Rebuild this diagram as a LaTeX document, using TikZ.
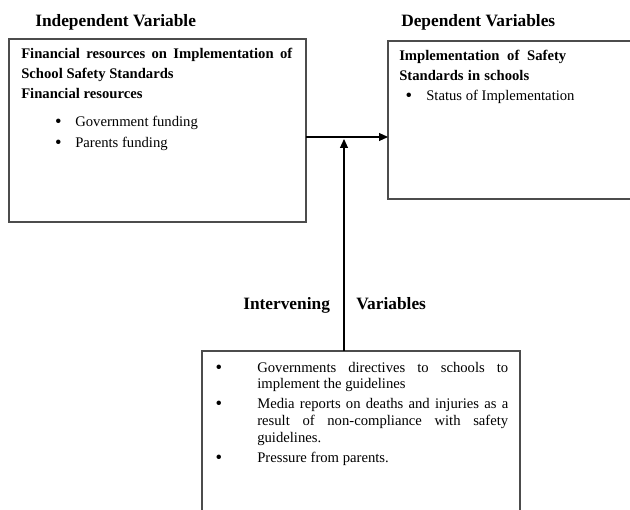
\documentclass[tikz,border=0pt]{standalone}
\usepackage{fontspec}
\setmainfont{Liberation Serif}
\usetikzlibrary{arrows.meta}
\begin{document}
\begin{tikzpicture}[x=0.75pt,y=-0.75pt]
\tikzset{>={Triangle[length=6.75pt,width=6pt]}}
\tikzset{
  box/.style={draw=black!70,line width=0.8pt,outer sep=0pt,inner sep=0pt,anchor=north west},
  head/.style={anchor=base west,inner sep=0pt,font=\fontsize{13}{15}\selectfont\bfseries},
  bold/.style={anchor=base west,inner sep=0pt,font=\fontsize{11}{13}\selectfont\bfseries},
  txt/.style={anchor=base west,inner sep=0pt,font=\fontsize{11}{13}\selectfont},
  dot/.style={anchor=base,inner sep=0pt,font=\fontsize{14}{13}\selectfont}
}
\useasboundingbox (0,0) rectangle (630,509);

% boxes
\node[box,minimum width=222.75pt,minimum height=137.25pt] (indep) at (9,39) {};
\node[box,minimum width=189pt,minimum height=118.5pt] (dep) at (388,41) {};
\node[box,minimum width=238.5pt,minimum height=126.75pt] (interv) at (202,351) {};

% headings
\node[head] (hindep) at (35,27) {Independent Variable};
\node[head] (hdep) at (401,27) {Dependent Variables};
\node[head] (hint1) at (243,309) {Intervening};
\node[head] (hint2) at (356,309) {Variables};

% independent variable
\node[bold] (i1) at (21,59) {\makebox[203.25pt][s]{Financial resources on Implementation of}};
\node[bold] (i2) at (21,79) {School Safety Standards};
\node[bold] (i3) at (21,99) {Financial resources};
\node[dot] (ib1) at (58.5,128) {\textbullet};
\node[txt] (it1) at (75,127) {Government funding};
\node[dot] (ib2) at (58.5,149) {\textbullet};
\node[txt] (it2) at (75,148) {Parents funding};

% dependent variables
\node[bold] (d1) at (399,61) {\makebox[125.25pt][s]{Implementation of Safety}};
\node[bold] (d2) at (399,81) {\makebox[97.5pt][s]{Standards in schools}};
\node[dot] (db1) at (409,102) {\textbullet};
\node[txt] (dt1) at (426,101) {Status of Implementation};

% intervening variables
\node[dot] (vb1) at (219,373) {\textbullet};
\node[txt] (v1) at (257,372) {\makebox[188.25pt][s]{Governments directives to schools to}};
\node[txt] (v2) at (257,388) {implement the guidelines};
\node[dot] (vb2) at (219,409) {\textbullet};
\node[txt] (v3) at (257,408) {\makebox[188.25pt][s]{Media reports on deaths and injuries as a}};
\node[txt] (v4) at (257,425) {\makebox[188.25pt][s]{result of non-compliance with safety}};
\node[txt] (v5) at (257,442) {guidelines.};
\node[dot] (vb3) at (219,463) {\textbullet};
\node[txt] (v6) at (257,462) {Pressure from parents.};

% arrows
\coordinate (junc) at (344,137);
\draw[->,line width=0.8pt] (indep.east |- junc) -- (dep.west |- junc);
\draw[->,line width=0.8pt] (interv.north -| junc) -- ([yshift=-1.5pt]junc);

\end{tikzpicture}
\end{document}
